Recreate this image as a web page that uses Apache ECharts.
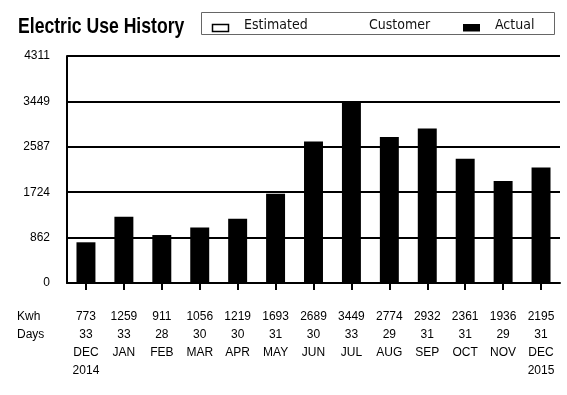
<!DOCTYPE html>
<html>
<head>
<meta charset="utf-8">
<script src="https://cdn.jsdelivr.net/npm/echarts@6/dist/echarts.min.js"></script>
<style>html,body{margin:0;padding:0;background:#fff}#c{width:567px;height:395px}</style>
</head>
<body>
<div id="c"></div>
<script>
var months = ['DEC','JAN','FEB','MAR','APR','MAY','JUN','JUL','AUG','SEP','OCT','NOV','DEC'];
var years = ['2014','','','','','','','','','','','','2015'];
var kwh = [773,1259,911,1056,1219,1693,2689,3449,2774,2932,2361,1936,2195];
var days = [33,33,28,30,30,31,30,33,29,31,31,29,31];
var yMax = 4311;
var ySteps = 5;
var titleText = 'Electric Use History';
var legendLabels = ['Estimated','Customer','Actual'];
var rowLabels = ['Kwh','Days'];

var LAB = "'Liberation Sans',Arial,sans-serif";
var COND = "'DejaVu Sans Condensed','DejaVu Sans',sans-serif";

var categories = months.map(function(m,i){
  var s = kwh[i] + '\n' + days[i] + '\n' + m;
  if (years[i]) s += '\n' + years[i];
  return s;
});

var chart = echarts.init(document.getElementById('c'), null, {renderer:'canvas'});
chart.setOption({
  animation:false,
  backgroundColor:'#fff',
  grid:{left:67,right:7,top:56,bottom:112,containLabel:false},
  xAxis:{
    type:'category',
    data:categories,
    axisLine:{show:true,lineStyle:{color:'#000',width:2}},
    axisTick:{show:true,alignWithLabel:true,length:7,lineStyle:{color:'#000',width:2}},
    axisLabel:{interval:0,margin:25,fontFamily:LAB,fontSize:12,lineHeight:18,color:'#000'},
    splitLine:{show:false}
  },
  yAxis:{
    type:'value',
    min:0,max:yMax,interval:yMax/ySteps,
    axisLine:{show:true,lineStyle:{color:'#000',width:2}},
    axisTick:{show:false},
    axisLabel:{margin:17,fontFamily:LAB,fontSize:12,color:'#000',
      formatter:function(v){return String(Math.round(v));}},
    splitLine:{show:true,lineStyle:{color:'#000',width:2}}
  },
  series:[{
    type:'bar',
    name:'Actual',
    data:kwh,
    barWidth:'50%',
    itemStyle:{color:'#000'}
  }],
  graphic:[
    {type:'text',x:18,y:26.5,scaleX:0.8,style:{text:titleText,fontFamily:LAB,fontSize:22,fontWeight:'bold',fill:'#000',verticalAlign:'middle'}},
    {type:'rect',shape:{x:201.5,y:12.5,width:353,height:22},style:{fill:'#fff',stroke:'#666',lineWidth:1}},
    {type:'rect',shape:{x:212.5,y:24.5,width:16,height:7},style:{fill:'#fff',stroke:'#000',lineWidth:1.5}},
    {type:'text',x:244,y:25,style:{text:legendLabels[0],fontFamily:COND,fontSize:14,fill:'#111',verticalAlign:'middle'}},
    {type:'text',x:369,y:25,style:{text:legendLabels[1],fontFamily:COND,fontSize:14,fill:'#111',verticalAlign:'middle'}},
    {type:'rect',shape:{x:463,y:24,width:17,height:7.5},style:{fill:'#000'}},
    {type:'text',x:495,y:25,style:{text:legendLabels[2],fontFamily:COND,fontSize:14,fill:'#111',verticalAlign:'middle'}},
    {type:'text',x:17,y:308,style:{text:rowLabels.join('\n'),fontFamily:LAB,fontSize:12,lineHeight:18,fill:'#000',verticalAlign:'top'}}
  ]
});
</script>
</body>
</html>
